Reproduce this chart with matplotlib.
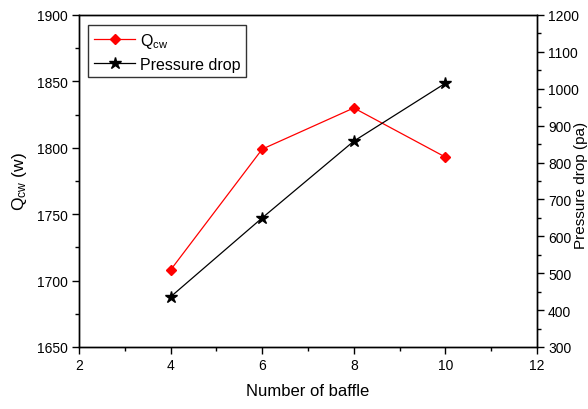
import matplotlib
matplotlib.use("Agg")
import matplotlib.pyplot as plt
from matplotlib.ticker import MultipleLocator

plt.rcParams['font.family'] = ['Liberation Sans', 'DejaVu Sans']
plt.rcParams['mathtext.fontset'] = 'custom'
plt.rcParams['mathtext.rm'] = 'Liberation Sans'
plt.rcParams['mathtext.it'] = 'Liberation Sans'

baffles = [4, 6, 8, 10]
q_cw = [1708, 1799, 1830, 1793]
pressure_drop = [436, 650, 858, 1015]

fig = plt.figure(figsize=(5.88, 4.10), dpi=100)
ax = fig.add_axes([79/588, 1 - 348/410, (537-79)/588, (348-16)/410])
ax2 = ax.twinx()

l1, = ax.plot(baffles, q_cw, color='red', lw=0.9, marker='D', ms=5,
              mfc='red', mec='red', label=r'Q$_{\mathregular{cw}}$')
l2, = ax2.plot(baffles, pressure_drop, color='black', lw=0.9, marker='*', ms=9,
               mfc='black', mec='black', label='Pressure drop')

ax.set_xlim(2, 12)
ax.set_ylim(1650, 1900)
ax2.set_ylim(300, 1200)
ax.xaxis.set_major_locator(MultipleLocator(2))
ax.xaxis.set_minor_locator(MultipleLocator(1))
ax.yaxis.set_major_locator(MultipleLocator(50))
ax.yaxis.set_minor_locator(MultipleLocator(25))
ax2.yaxis.set_major_locator(MultipleLocator(100))
ax2.yaxis.set_minor_locator(MultipleLocator(50))

for a in (ax, ax2):
    for s in a.spines.values():
        s.set_linewidth(1.0)
    a.tick_params(which='major', direction='out', length=5, width=1.0, labelsize=10, pad=3)
    a.tick_params(which='minor', direction='out', length=3, width=1.0)

ax.set_xlabel('Number of baffle', fontsize=12, labelpad=8)
ax.set_ylabel(r'Q$_{\mathregular{cw}}$ (w)', fontsize=12.5, labelpad=6)
ax2.set_ylabel('Pressure drop (pa)', fontsize=11, ha='center', va='center')
ax2.yaxis.set_label_coords((581.5 - 79) / 458, 0.49)

leg = ax.legend(handles=[l1, l2], loc='upper left', bbox_to_anchor=(0.02, 0.97),
                fontsize=11.5, frameon=True, fancybox=False, edgecolor='black',
                borderpad=0.35, handlelength=2.6, handletextpad=0.3, labelspacing=0.45,
                borderaxespad=0)
leg.get_frame().set_linewidth(1.0)

fig.savefig('out.png', dpi=100)
